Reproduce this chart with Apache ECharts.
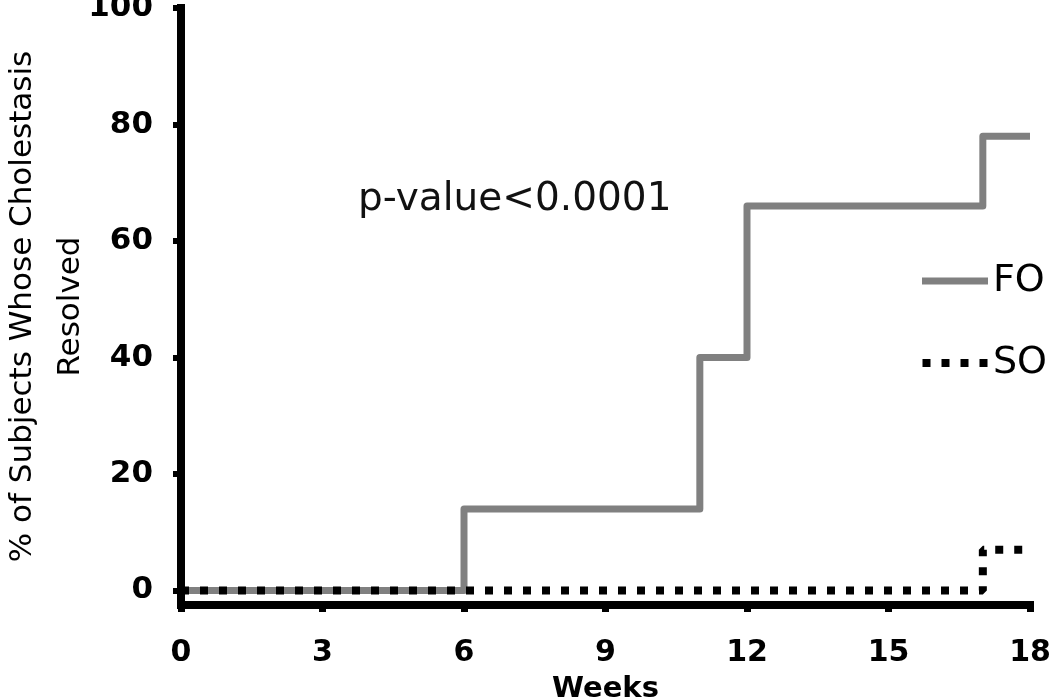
<!DOCTYPE html>
<html>
<head>
<meta charset="utf-8">
<script src="https://cdn.jsdelivr.net/npm/echarts@6/dist/echarts.min.js"></script>
<style>
  html, body { margin: 0; padding: 0; background: #fff; }
  #main { width: 1050px; height: 698px; }
</style>
</head>
<body>
<div id="main"></div>
<script>
// weeks where each curve steps, and % resolved after the step
var foWeeks = [0, 6, 11, 12, 17, 18];
var foPct = [0, 14, 40, 66, 78, 78];
var soWeeks = [0, 17, 18];
var soPct = [0, 7, 7];
var xTicks = [0, 3, 6, 9, 12, 15, 18];
var yTicks = [0, 20, 40, 60, 80, 100];

var font = "DejaVu Sans";

function pairs(xs, ys) {
  return xs.map(function (x, i) { return [x, ys[i]]; });
}

var myChart = echarts.init(document.getElementById("main"));

var option = {
  animation: false,
  backgroundColor: "#fff",
  grid: {
    left: 181,
    right: 20,
    top: 8,
    bottom: 93,
    containLabel: false,
    outerBoundsMode: "none",
  },
  legend: {
    orient: "vertical",
    left: 917,
    top: 253,
    itemWidth: 66,
    itemHeight: 8,
    itemGap: 36,
    // legend keys drawn as a solid bar and as four square dots
    data: [
      { name: "FO", icon: "path://M0,0h66v7h-66z" },
      { name: "SO", icon: "path://M0,0h8v8h-8z M19,0h8v8h-8z M38,0h8v8h-8z M57,0h8v8h-8z" },
    ],
    textStyle: {
      fontFamily: font,
      fontSize: 38,
      color: "#000",
      lineHeight: 46,
    },
  },
  graphic: [
    {
      type: "text",
      left: 358,
      top: 180,
      style: {
        text: "p-value<0.0001",
        fontFamily: font,
        fontSize: 39,
        fill: "#111",
      },
    },
  ],
  xAxis: {
    type: "value",
    min: xTicks[0],
    max: xTicks[xTicks.length - 1],
    interval: 3,
    name: "Weeks",
    nameLocation: "middle",
    nameGap: 70,
    nameMoveOverlap: false,
    nameTextStyle: {
      fontFamily: font,
      fontSize: 29,
      fontWeight: "bold",
      color: "#000",
    },
    axisLine: {
      onZero: false,
      lineStyle: { color: "#000", width: 8, cap: "square" },
    },
    axisTick: {
      length: 7,
      lineStyle: { color: "#000", width: 7 },
    },
    axisLabel: {
      margin: 33,
      fontFamily: font,
      fontSize: 30,
      fontWeight: "bold",
      color: "#000",
    },
    splitLine: { show: false },
  },
  yAxis: {
    type: "value",
    min: -2.5,
    max: 100,
    name: "% of Subjects Whose Cholestasis\nResolved",
    nameLocation: "middle",
    nameGap: 86,
    nameMoveOverlap: false,
    nameTextStyle: {
      fontFamily: font,
      fontSize: 31,
      color: "#000",
      lineHeight: 48,
      align: "center",
    },
    axisLine: {
      onZero: false,
      lineStyle: { color: "#000", width: 8, cap: "square" },
    },
    axisTick: {
      length: 8,
      customValues: yTicks,
      lineStyle: { color: "#000", width: 6 },
    },
    axisLabel: {
      margin: 28,
      customValues: yTicks,
      fontFamily: font,
      fontSize: 31,
      fontWeight: "bold",
      color: "#000",
    },
    splitLine: { show: false },
  },
  series: [
    {
      name: "FO",
      type: "line",
      step: "end",
      symbol: "none",
      data: pairs(foWeeks, foPct),
      itemStyle: { color: "#808080" },
      lineStyle: { color: "#808080", width: 7, join: "round" },
      z: 2,
    },
    {
      name: "SO",
      type: "line",
      step: "end",
      symbol: "none",
      data: pairs(soWeeks, soPct),
      itemStyle: { color: "#000" },
      lineStyle: { color: "#000", width: 8, type: [8, 11], cap: "butt" },
      z: 3,
    },
  ],
};

myChart.setOption(option);
</script>
</body>
</html>
